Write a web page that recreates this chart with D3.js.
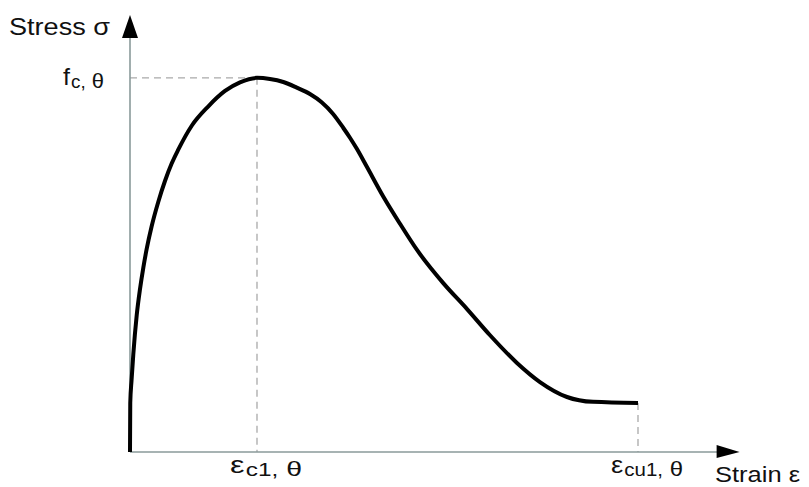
<!DOCTYPE html>
<html>
<head>
<meta charset="utf-8">
<script src="https://cdn.jsdelivr.net/npm/d3@7"></script>
<style>
  body { margin: 0; background: #fff; }
  text { font-family: "Liberation Sans", Arial, sans-serif; fill: #111; }
</style>
</head>
<body>
<script>
// curve: strain as multiple of eps_c1, stress as fraction of f_c
var strain = [0, 0.002, 0.012, 0.026, 0.053, 0.079, 0.105, 0.131, 0.171, 0.223, 0.276, 0.328, 0.380,
              0.486, 0.617, 0.748, 0.866, 1.0,
              1.102, 1.207, 1.313, 1.417, 1.509, 1.601, 1.680, 1.732, 1.785, 1.864, 1.994, 2.126,
              2.260, 2.465, 2.654, 2.835, 3.047, 3.228, 3.441, 3.646, 4.0]
var stress = [0, 0.131, 0.191, 0.261, 0.366, 0.436, 0.493, 0.542, 0.604, 0.669, 0.725, 0.771, 0.808,
              0.872, 0.924, 0.965, 0.988, 1.0,
              0.997, 0.989, 0.974, 0.957, 0.935, 0.903, 0.866, 0.840, 0.811, 0.763, 0.683, 0.610,
              0.540, 0.452, 0.382, 0.312, 0.238, 0.187, 0.147, 0.134, 0.131]

var xTicks = [1, 4]
var xTickMain = ['ε', 'ε']
var xTickSub = ['c1,', 'cu1,']
var yTicks = [1]
var yTickMain = ['f']
var yTickSub = ['c,']
var subSymbol = 'θ'
var xTitle = 'Strain ε', yTitle = 'Stress σ'

var width = 809, height = 487
var svg = d3.select('body').append('svg').attr('width', width).attr('height', height).attr('id', 'svg0')

var x = d3.scaleLinear().domain([0, 4.8]).range([130, 739.6])
var y = d3.scaleLinear().domain([0, 1.168]).range([452, 15])

var axisColor = '#8a9a9a', dashColor = '#a9a9a9'

// dashed guides
var points = strain.map((s, i) => ({s: s, v: stress[i]}))
var last = points[points.length - 1]
var guides = [
    [[0, 1], [1, 1]],
    [[1, 1], [1, 0]],
    [[last.s, last.v], [last.s, 0]]
]
svg.selectAll('.guide').data(guides).enter().append('line').attr('class', 'guide')
    .attr('x1', d => x(d[0][0])).attr('y1', d => y(d[0][1]))
    .attr('x2', d => x(d[1][0])).attr('y2', d => y(d[1][1]))
    .attr('stroke', dashColor).attr('stroke-width', 1.3).attr('stroke-dasharray', '7,5')

// axes with arrow heads
var xmax = x.domain()[1], ymax = y.domain()[1]
svg.append('line').attr('x1', x(0)).attr('y1', y(0)).attr('x2', x(xmax) - 22).attr('y2', y(0))
    .attr('stroke', axisColor).attr('stroke-width', 1.6)
svg.append('line').attr('x1', x(0)).attr('y1', y(0)).attr('x2', x(0)).attr('y2', y(ymax) + 22)
    .attr('stroke', axisColor).attr('stroke-width', 1.6)
svg.append('path')
    .attr('d', 'M' + x(xmax) + ',' + y(0) + 'L' + (x(xmax) - 23) + ',' + (y(0) - 7) + 'L' + (x(xmax) - 23) + ',' + (y(0) + 6) + 'Z')
    .attr('fill', '#000')
svg.append('path')
    .attr('d', 'M' + x(0) + ',' + y(ymax) + 'L' + (x(0) - 8) + ',' + (y(ymax) + 23) + 'L' + (x(0) + 8) + ',' + (y(ymax) + 23) + 'Z')
    .attr('fill', '#000')

// stress-strain curve
var line = d3.line().x(d => x(d.s)).y(d => y(d.v)).curve(d3.curveMonotoneX)
svg.append('path').datum(points)
    .attr('d', line).attr('fill', 'none').attr('stroke', '#000')
    .attr('stroke-width', 4).attr('stroke-linejoin', 'round')

// tick labels with subscripts (picture is a bit wider than the font, so textLength)
function label(sel, main, sub, len) {
    sel.attr('textLength', len).attr('lengthAdjust', 'spacingAndGlyphs')
    sel.append('tspan').text(main).attr('font-size', '24px')
    sel.append('tspan').text(sub).attr('font-size', '18px').attr('dy', 3).attr('dx', 1)
    sel.append('tspan').text(' ' + subSymbol).attr('font-size', '21px')
}
xTicks.forEach((t, i) => {
    var tx = svg.append('text').attr('x', x(t) - 27).attr('y', 473)
    label(tx, xTickMain[i], xTickSub[i], 72)
})
yTicks.forEach((t, i) => {
    var ty = svg.append('text').attr('x', 63).attr('y', y(t) + 7)
    label(ty, yTickMain[i], yTickSub[i], 41)
})

// axis titles
svg.append('text').attr('x', 9).attr('y', 35).attr('font-size', '23px')
    .attr('textLength', 101).attr('lengthAdjust', 'spacingAndGlyphs').text(yTitle)
svg.append('text').attr('x', 715).attr('y', 482).attr('font-size', '22px')
    .attr('textLength', 85).attr('lengthAdjust', 'spacingAndGlyphs').text(xTitle)
</script>
</body>
</html>
